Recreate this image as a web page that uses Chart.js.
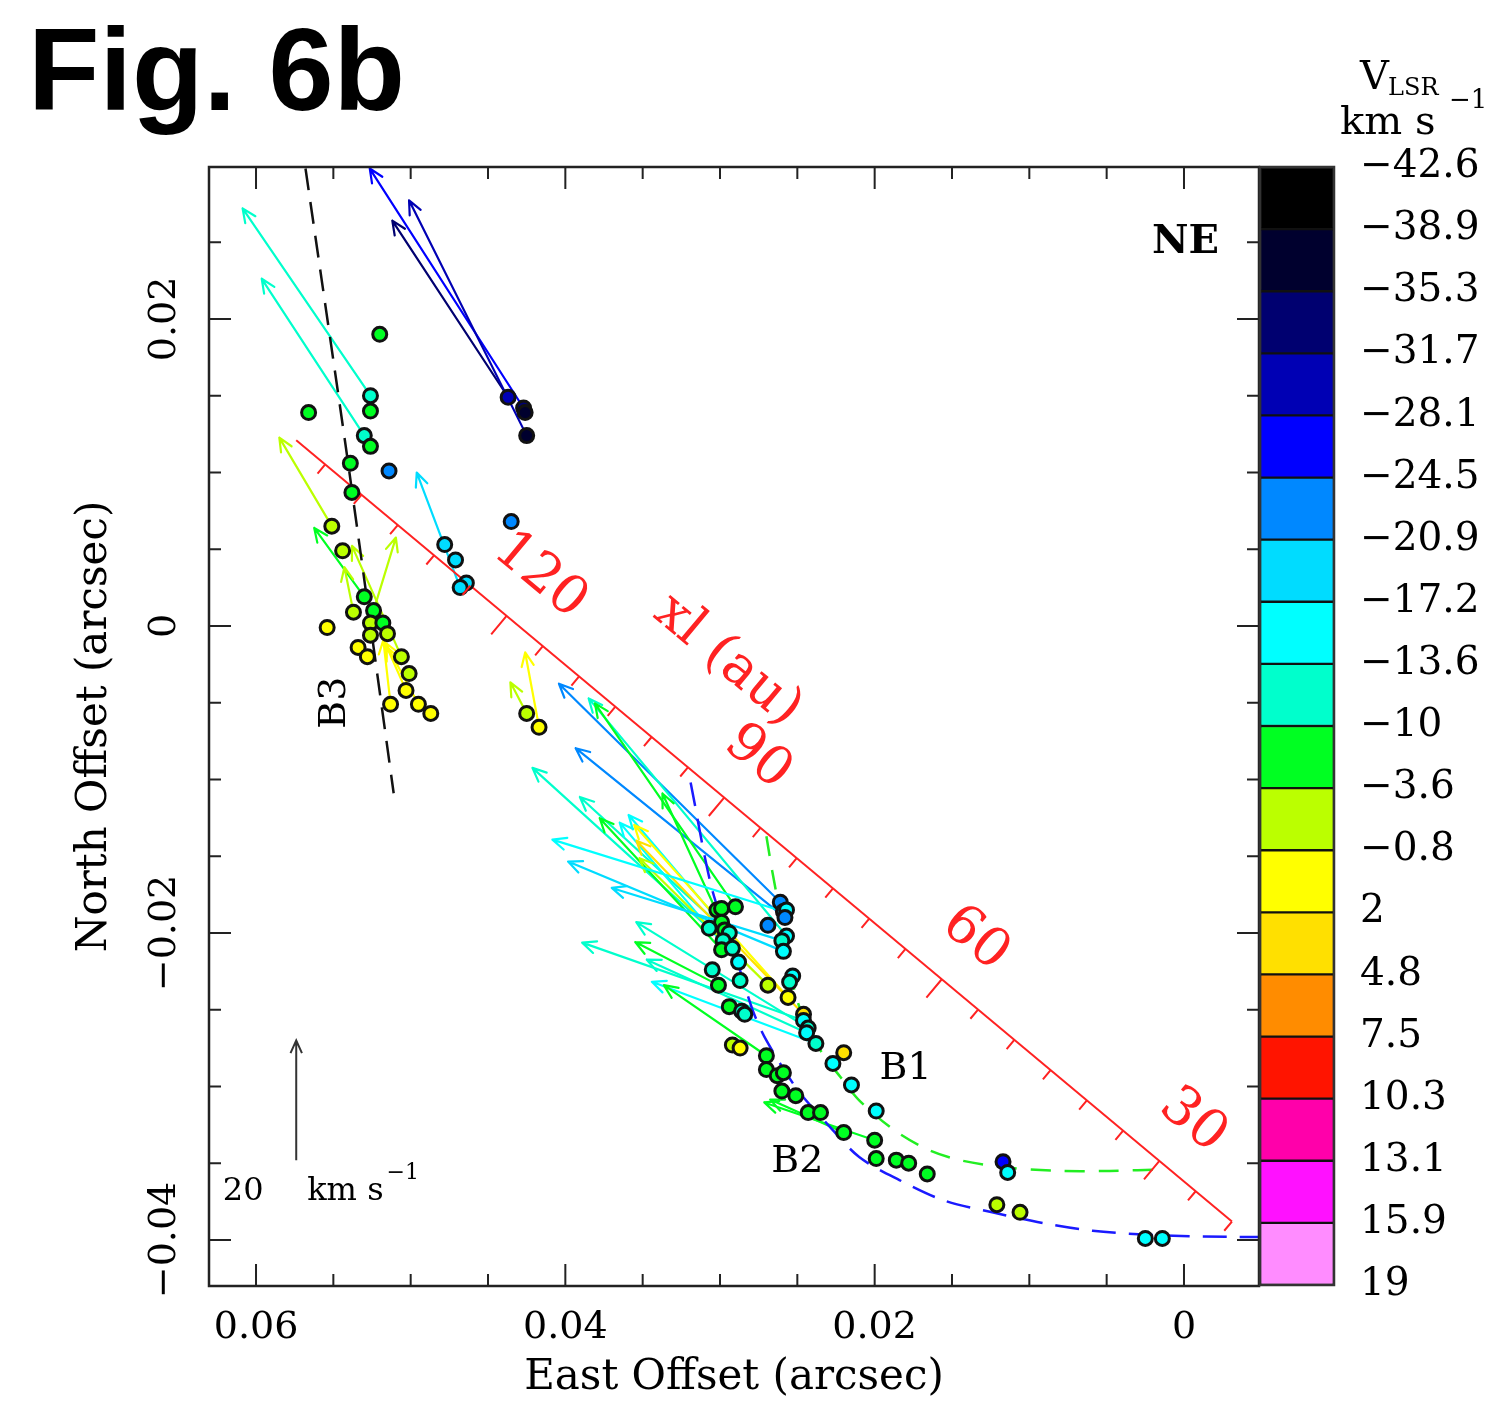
<!DOCTYPE html>
<html>
<head>
<meta charset="utf-8">
<script src="https://cdn.jsdelivr.net/npm/chart.js@4.4.0/dist/chart.umd.min.js"></script>
<style>
  body { margin: 0; background: #fff; }
  #page { position: relative; width: 1496px; height: 1418px; overflow: hidden; background: #fff; }
  #mainBox { position: absolute; left: 0; top: 0; width: 1496px; height: 1418px; }
  #barBox { position: absolute; left: 1250px; top: 140px; width: 246px; height: 1170px; }
  #fig { position: absolute; left: 28px; top: 11px; font: bold 117px "Liberation Sans", Arial, sans-serif; line-height: 1; color: #000; }
  .hdr { position: absolute; font-family: "DejaVu Serif", serif; line-height: 1; color: #000; white-space: nowrap; }
</style>
</head>
<body>
<div id="page">
  <div id="mainBox"><canvas id="chart"></canvas></div>
  <div id="barBox"><canvas id="colorbar"></canvas></div>
  <div id="fig">Fig. 6b</div>
  <div class="hdr" style="left:1360px; top:55px; font-size:40px;">V</div>
  <div class="hdr" style="left:1388px; top:75px; font-size:24px;">LSR</div>
  <div class="hdr" style="left:1340px; top:100px; font-size:40px;">km s</div>
  <div class="hdr" style="left:1449px; top:86px; font-size:26px;">−1</div>
</div>
<script>
// colour bar: band edges (km/s) and colours
const vBounds = [-42.6, -38.9, -35.3, -31.7, -28.1, -24.5, -20.9, -17.2, -13.6, -10, -3.6, -0.8, 2, 4.8, 7.5, 10.3, 13.1, 15.9, 19];
const vColors = ['#000000', '#00002e', '#000070', '#0000b4', '#0000ff', '#0088ff', '#00dcff', '#00ffff',
  '#00ffcc', '#00ff22', '#bbff00', '#ffff00', '#ffe000', '#ff8c00', '#ff1400', '#ff00aa', '#ff11ff', '#ff8cff'];

// axis ticks
const xTickValues = [0.06, 0.04, 0.02, 0];
const xTickLabels = ['0.06', '0.04', '0.02', '0'];
const yTickValues = [0.02, 0, -0.02, -0.04];
const yTickLabels = ['0.02', '0', '−0.02', '−0.04'];

// maser spots (arcsec, km/s)
const spotX = [0.0437, 0.0427, 0.0426, 0.0425, 0.0526, 0.0530, 0.0520, 0.0566, 0.0526, 0.0526, 0.0539, 0.0514, 0.0538, 0.0435,
  0.0551, 0.0544, 0.0530, 0.0524, 0.0526, 0.0518, 0.0526, 0.0515, 0.0537, 0.0554, 0.0534, 0.0528, 0.0506, 0.0501, 0.0503, 0.0513, 0.0495, 0.0487,
  0.0478, 0.0471, 0.0464, 0.0468, 0.0425, 0.0417,
  0.0302, 0.0299, 0.0290, 0.0299, 0.0307, 0.0297, 0.0294, 0.0298, 0.0299, 0.0292, 0.0288, 0.0305, 0.0301, 0.0287, 0.0269,
  0.0261, 0.0259, 0.0257, 0.0258, 0.0269, 0.0257, 0.0260, 0.0259, 0.0253, 0.0255, 0.0256, 0.0294, 0.0286, 0.0284,
  0.0246, 0.0246, 0.0243, 0.0244, 0.0238, 0.0292, 0.0287, 0.0270, 0.0270, 0.0263, 0.0259, 0.0260, 0.0251, 0.0243, 0.0235,
  0.0220, 0.0200, 0.0199, 0.0220, 0.0227, 0.0215, 0.0199, 0.0186, 0.0178, 0.0166, 0.0117, 0.0114, 0.0121, 0.0106, 0.0025, 0.0014];
const spotY = [0.0149, 0.0142, 0.0139, 0.0124, 0.0150, 0.0124, 0.0190, 0.0139, 0.0140, 0.0117, 0.0106, 0.0101, 0.0087, 0.0068,
  0.0065, 0.0049, 0.0019, 0.0010, 0.0002, 0.0002, -0.0006, -0.0005, 0.0009, -0.0001, -0.0014, -0.0020, -0.0020, -0.0031, -0.0042, -0.0051, -0.0051, -0.0057,
  0.0053, 0.0043, 0.0028, 0.0025, -0.0057, -0.0066,
  -0.0185, -0.0184, -0.0183, -0.0193, -0.0197, -0.0198, -0.0200, -0.0205, -0.0211, -0.0210, -0.0219, -0.0224, -0.0234, -0.0231, -0.0234,
  -0.0180, -0.0186, -0.0185, -0.0190, -0.0195, -0.0202, -0.0205, -0.0212, -0.0228, -0.0232, -0.0242, -0.0248, -0.0251, -0.0253,
  -0.0253, -0.0257, -0.0262, -0.0265, -0.0272, -0.0273, -0.0275, -0.0280, -0.0289, -0.0293, -0.0291, -0.0303, -0.0306, -0.0317, -0.0317,
  -0.0330, -0.0335, -0.0347, -0.0278, -0.0285, -0.0299, -0.0316, -0.0348, -0.0350, -0.0357, -0.0349, -0.0356, -0.0377, -0.0382, -0.0399, -0.0399];
const spotV = [-30, -33.5, -37, -37, -11.8, -11.8, -6.8, -6.8, -6.8, -6.8, -6.8, -22.7, -6.8, -22.7,
  -2.2, -2.2, -6.8, -6.8, -2.2, -6.8, -2.2, -2.2, -2.2, 0.6, 0.6, 0.6, -2.2, -2.2, 0.6, 0.6, 0.6, 0.6,
  -19, -19, -19, -19, -2.2, 0.6,
  -6.8, -6.8, -6.8, -6.8, -11.8, -6.8, -11.8, -11.8, -6.8, -11.8, -15.4, -11.8, -6.8, -11.8, -2.2,
  -22.7, -15.4, -15.4, -22.7, -22.7, -15.4, -11.8, -15.4, -15.4, -11.8, 0.6, -6.8, -11.8, -11.8,
  3.4, -15.4, -11.8, -15.4, -11.8, -2.2, 0.6, -6.8, -6.8, -6.8, -6.8, -6.8, -6.8, -6.8, -6.8,
  -6.8, -6.8, -6.8, 3.4, -15.4, -15.4, -15.4, -6.8, -6.8, -6.8, -26.3, -15.4, -2.2, -2.2, -15.4, -15.4];

// proper motions: start (arcsec), velocity east/north (km/s), Vlsr (km/s)
const arrowX = [0.0437, 0.0427, 0.0425, 0.0526, 0.0530, 0.0551, 0.0530, 0.0506, 0.0537, 0.0524, 0.0513, 0.0503, 0.0495, 0.0468, 0.0425, 0.0417,
  0.0261, 0.0258, 0.0257, 0.0290, 0.0299, 0.0307, 0.0297, 0.0299, 0.0288, 0.0294, 0.0256, 0.0246, 0.0269, 0.0259, 0.0259, 0.0260,
  0.0246, 0.0243, 0.0301, 0.0244, 0.0238, 0.0270, 0.0200, 0.0220];
const arrowY = [0.0149, 0.0142, 0.0124, 0.0150, 0.0124, 0.0065, 0.0019, -0.0020, 0.0009, 0.0010, -0.0051, -0.0042, -0.0051, 0.0025, -0.0057, -0.0066,
  -0.0180, -0.0190, -0.0202, -0.0183, -0.0193, -0.0197, -0.0198, -0.0211, -0.0219, -0.0200, -0.0242, -0.0253, -0.0234, -0.0186, -0.0212, -0.0205,
  -0.0257, -0.0262, -0.0234, -0.0265, -0.0272, -0.0280, -0.0335, -0.0330];
const arrowVE = [19.2, 25.5, 19.5, 21.2, 17.0, 8.7, 8.3, 8.2, 1.5, -3.7, 1.2, 3.2, 5.5, 7.2, 2.7, 2.3,
  36.7, 34.7, 32.8, 23.3, 9.8, 29.3, 24.0, 20.2, 19.7, 16.7, 25.5, 27.7, 21.3, 38.3, 35.7, 28.2,
  36.7, 28.5, 13.8, 26.5, 27.2, 17.0, 18.3, 12.2];
const arrowVN = [29.5, 40.0, 39.3, 31.3, 26.2, 14.8, 11.5, 18.5, 7.5, 12.2, 10.7, 7.3, 10.3, 19.2, 5.2, 12.5,
  36.5, 28.3, 39.7, 34.0, 21.5, 26.8, 22.2, 22.0, 23.3, 19.7, 28.8, 29.0, 21.2, 12.0, 15.0, 8.8,
  13.0, 17.7, 7.2, 12.2, 10.3, 11.8, 6.3, 5.5];
const arrowV = [-33.5, -26.3, -30, -11.8, -11.8, -2.2, -6.8, -2.2, -2.2, -2.2, 0.6, 0.6, 0.6, -19, -2.2, 0.6,
  -22.7, -22.7, -11.8, -6.8, -6.8, -11.8, -11.8, -6.8, -15.4, -15.4, 0.6, 3.4, -2.2, -15.4, -19, -19,
  -11.8, -11.8, -6.8, -11.8, -15.4, -6.8, -6.8, -6.8];
const arcsecPerKms = 0.00039;   // 20 km/s arrow length
const scaleArrow = { x: 0.0574, y: -0.0348, v: 20 };

// arc fits B1, B2 and line B3
const b1X = [0.0270, 0.0266, 0.0259, 0.0252, 0.0243, 0.0232, 0.0222, 0.0210, 0.0188, 0.0166, 0.0145, 0.0113, 0.0080, 0.0048, 0.0012];
const b1Y = [-0.0137, -0.0161, -0.0198, -0.0237, -0.0263, -0.0281, -0.0294, -0.0309, -0.0328, -0.0341, -0.0348, -0.0353, -0.0355, -0.0355, -0.0354];
const b2X = [0.0319, 0.0305, 0.0289, 0.0279, 0.0270, 0.0250, 0.0231, 0.0210, 0.0184, 0.0156, 0.0124, 0.0091, 0.0059, 0.0016, -0.0028, -0.0048];
const b2Y = [-0.0102, -0.0172, -0.0218, -0.0250, -0.0270, -0.0302, -0.0324, -0.0346, -0.0361, -0.0374, -0.0382, -0.0389, -0.0394, -0.0397, -0.0398, -0.0398];
const b3X = [0.0568, 0.0541, 0.0511];
const b3Y = [0.0298, 0.0110, -0.0109];

// x1 axis (au) drawn across the field
const x1Start = { x: 0.0574, y: 0.0121, au: 149 };
const x1End = { x: -0.0031, y: -0.0388, au: 20 };
const x1Labels = [30, 60, 90, 120];

const serif = '"DejaVu Serif", serif';
const red = '#ff2222';
Chart.defaults.font.family = serif;

function bandColor(v) {
  for (let i = 0; i < vColors.length; i++) if (v <= vBounds[i + 1]) return vColors[i];
  return vColors[vColors.length - 1];
}
function fmtV(v) { return v < 0 ? '−' + Math.abs(v) : String(v); }
function pts(xs, ys) { return xs.map((x, i) => ({ x, y: ys[i] })); }
function toPx(chart, x, y) { return { x: chart.scales.x.getPixelForValue(x), y: chart.scales.y.getPixelForValue(y) }; }

function drawArrow(ctx, p0, p1, color, head) {
  const ang = Math.atan2(p1.y - p0.y, p1.x - p0.x);
  ctx.strokeStyle = color;
  ctx.beginPath();
  ctx.moveTo(p0.x, p0.y);
  ctx.lineTo(p1.x, p1.y);
  ctx.moveTo(p1.x - head * Math.cos(ang - 0.42), p1.y - head * Math.sin(ang - 0.42));
  ctx.lineTo(p1.x, p1.y);
  ctx.lineTo(p1.x - head * Math.cos(ang + 0.42), p1.y - head * Math.sin(ang + 0.42));
  ctx.stroke();
}

function text(ctx, str, x, y, font, color, rot) {
  ctx.save();
  ctx.translate(x, y);
  if (rot) ctx.rotate(rot);
  ctx.font = font;
  ctx.fillStyle = color;
  ctx.textAlign = 'center';
  ctx.textBaseline = 'middle';
  ctx.fillText(str, 0, 0);
  ctx.restore();
}

const overlay = {
  id: 'overlay',
  beforeDatasetsDraw(chart) {
    const { ctx, chartArea: a } = chart;
    ctx.save();
    ctx.beginPath();
    ctx.rect(a.left, a.top, a.right - a.left, a.bottom - a.top);
    ctx.clip();
    ctx.lineWidth = 2.2;
    ctx.lineCap = 'round';
    ctx.lineJoin = 'round';
    arrowX.forEach((x, i) => {
      const p0 = toPx(chart, x, arrowY[i]);
      const p1 = toPx(chart, x + arrowVE[i] * arcsecPerKms, arrowY[i] + arrowVN[i] * arcsecPerKms);
      drawArrow(ctx, p0, p1, bandColor(arrowV[i]), 15);
    });
    ctx.restore();
  },
  afterDatasetsDraw(chart) {
    const { ctx, chartArea: a } = chart;
    const xs = chart.scales.x, ys = chart.scales.y;
    ctx.save();

    // frame and inward ticks
    ctx.strokeStyle = '#222';
    ctx.lineWidth = 2.5;
    ctx.strokeRect(a.left, a.top, a.right - a.left, a.bottom - a.top);
    ctx.lineWidth = 2;
    ctx.beginPath();
    for (let k = -1; k <= 13; k++) {
      const v = k * 0.005;
      if (v < xs.min || v > xs.max) continue;
      const p = xs.getPixelForValue(v), len = k % 4 === 0 ? 22 : 12;
      ctx.moveTo(p, a.bottom); ctx.lineTo(p, a.bottom - len);
      ctx.moveTo(p, a.top); ctx.lineTo(p, a.top + len);
    }
    for (let k = -9; k <= 6; k++) {
      const v = k * 0.005;
      if (v < ys.min || v > ys.max) continue;
      const p = ys.getPixelForValue(v), len = k % 4 === 0 ? 22 : 12;
      ctx.moveTo(a.left, p); ctx.lineTo(a.left + len, p);
      ctx.moveTo(a.right, p); ctx.lineTo(a.right - len, p);
    }
    ctx.stroke();

    // tick labels
    xTickValues.forEach((v, i) => text(ctx, xTickLabels[i], xs.getPixelForValue(v), a.bottom + 42, '38px ' + serif, '#000'));
    yTickValues.forEach((v, i) => text(ctx, yTickLabels[i], a.left - 44, ys.getPixelForValue(v), '38px ' + serif, '#000', -Math.PI / 2));

    // x1 axis ticks and labels
    const s = toPx(chart, x1Start.x, x1Start.y), e = toPx(chart, x1End.x, x1End.y);
    const L = Math.hypot(e.x - s.x, e.y - s.y), ux = (e.x - s.x) / L, uy = (e.y - s.y) / L;
    const at = au => {
      const f = (x1Start.au - au) / (x1Start.au - x1End.au);
      return { x: s.x + f * (e.x - s.x), y: s.y + f * (e.y - s.y) };
    };
    ctx.strokeStyle = red;
    ctx.lineWidth = 2;
    ctx.beginPath();
    for (let au = 20; au <= 145; au += 5) {
      const p = at(au), len = au % 30 === 0 ? 24 : 12;
      ctx.moveTo(p.x, p.y);
      ctx.lineTo(p.x - uy * len, p.y + ux * len);
    }
    ctx.stroke();
    const ang = Math.atan2(uy, ux);
    x1Labels.forEach(au => {
      const p = at(au);
      text(ctx, String(au), p.x + uy * 52, p.y - ux * 52, '54px ' + serif, red, ang);
    });
    const t = at(99);
    text(ctx, 'xl (au)', t.x + uy * 107, t.y - ux * 107, '54px ' + serif, red, ang);

    // region labels
    let p = toPx(chart, 0.0180, -0.0289); text(ctx, 'B1', p.x, p.y, '38px ' + serif, '#000');
    p = toPx(chart, 0.0250, -0.0349); text(ctx, 'B2', p.x, p.y, '38px ' + serif, '#000');
    p = toPx(chart, 0.0549, -0.0050); text(ctx, 'B3', p.x, p.y, '38px ' + serif, '#000', -Math.PI / 2);
    p = toPx(chart, -0.0001, 0.0250); text(ctx, 'NE', p.x, p.y, 'bold 40px ' + serif, '#000');

    // velocity scale arrow
    const b = toPx(chart, scaleArrow.x, scaleArrow.y);
    const tip = toPx(chart, scaleArrow.x, scaleArrow.y + scaleArrow.v * arcsecPerKms);
    ctx.lineWidth = 2;
    drawArrow(ctx, b, tip, '#333', 14);
    text(ctx, String(scaleArrow.v), b.x - 53, b.y + 32, '32px ' + serif, '#000');
    ctx.font = '32px ' + serif;
    ctx.fillStyle = '#000';
    ctx.textAlign = 'left';
    ctx.textBaseline = 'middle';
    ctx.fillText('km s', b.x + 11, b.y + 32);
    const w = ctx.measureText('km s').width;
    ctx.font = '22px ' + serif;
    ctx.fillText('−1', b.x + 14 + w, b.y + 13);
    ctx.restore();
  }
};

new Chart(document.getElementById('chart'), {
  type: 'scatter',
  data: {
    datasets: [
      {
        label: 'spots',
        data: pts(spotX, spotY),
        pointRadius: 7,
        pointBorderWidth: 3,
        pointBorderColor: '#111',
        pointBackgroundColor: spotV.map(bandColor)
      },
      { label: 'B1', data: pts(b1X, b1Y), showLine: true, borderColor: '#22ee22', borderWidth: 2.5, borderDash: [20, 14], pointRadius: 0, tension: 0.3 },
      { label: 'B2', data: pts(b2X, b2Y), showLine: true, borderColor: '#1a1aff', borderWidth: 2.5, borderDash: [24, 13], pointRadius: 0, tension: 0.3 },
      { label: 'B3', data: pts(b3X, b3Y), showLine: true, borderColor: '#111', borderWidth: 2.5, borderDash: [22, 12], pointRadius: 0, tension: 0.2 },
      { label: 'x1', data: pts([x1Start.x, x1End.x], [x1Start.y, x1End.y]), showLine: true, borderColor: red, borderWidth: 2, pointRadius: 0 }
    ]
  },
  options: {
    responsive: true,
    maintainAspectRatio: false,
    animation: false,
    layout: { padding: { top: 167, right: 237, left: 0, bottom: 0 } },
    plugins: { legend: { display: false }, tooltip: { enabled: false } },
    scales: {
      x: {
        type: 'linear', min: -0.00485, max: 0.06304, reverse: true,
        grid: { display: false }, border: { display: false }, ticks: { display: false },
        title: { display: true, text: 'East Offset (arcsec)', color: '#000', font: { size: 42 }, padding: { top: 0, bottom: 15 } },
        afterFit: s => { s.height = 132; }
      },
      y: {
        type: 'linear', min: -0.0430, max: 0.0299,
        grid: { display: false }, border: { display: false }, ticks: { display: false },
        title: { display: true, text: 'North Offset (arcsec)', color: '#000', font: { size: 42 }, padding: { top: 70, bottom: 0 } },
        afterFit: s => { s.width = 209; }
      }
    }
  },
  plugins: [overlay]
});

const cbFrame = {
  id: 'cbFrame',
  afterDatasetsDraw(chart) {
    const { ctx, chartArea: a } = chart;
    ctx.save();
    ctx.strokeStyle = '#333';
    ctx.lineWidth = 2.5;
    ctx.strokeRect(a.left, a.top, a.right - a.left, a.bottom - a.top);
    ctx.restore();
  }
};

new Chart(document.getElementById('colorbar'), {
  type: 'bar',
  data: {
    labels: ['Vlsr'],
    datasets: vColors.map(c => ({ data: [1], backgroundColor: c, borderColor: '#111', borderWidth: 1.5, borderSkipped: false }))
  },
  options: {
    responsive: true,
    maintainAspectRatio: false,
    animation: false,
    layout: { padding: { left: 10, top: 27, bottom: 25, right: 0 } },
    plugins: { legend: { display: false }, tooltip: { enabled: false } },
    datasets: { bar: { categoryPercentage: 1, barPercentage: 1 } },
    scales: {
      x: { stacked: true, display: false },
      y: {
        stacked: true, position: 'right', min: 0, max: 18, reverse: true,
        grid: { display: false }, border: { display: false },
        afterBuildTicks: s => { s.ticks = vBounds.map((_, i) => ({ value: i })); },
        afterFit: s => { s.width = 162; s.paddingTop = 0; s.paddingBottom = 0; },
        ticks: { autoSkip: false, padding: 18, color: '#000', font: { size: 39 }, callback: v => fmtV(vBounds[v]) }
      }
    }
  },
  plugins: [cbFrame]
});
</script>
</body>
</html>
